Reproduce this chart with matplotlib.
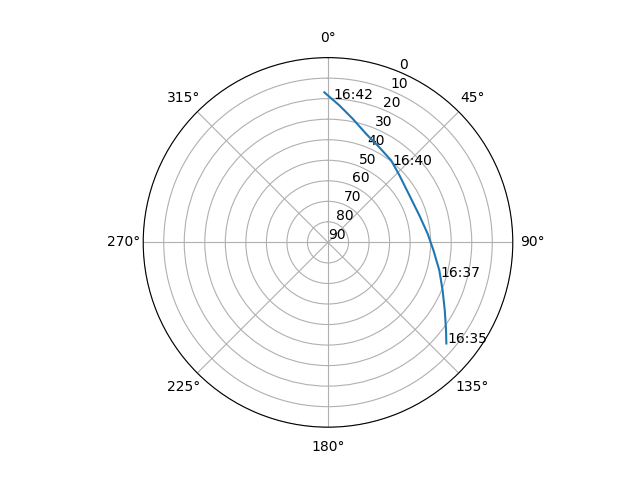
import numpy as np
import matplotlib
matplotlib.use("Agg")
import matplotlib.pyplot as plt

# satellite track: azimuth (deg, clockwise from N) and elevation (deg)
azimuth = [130.5, 126.7, 120.2, 112.7, 104.1, 94.3, 85.0, 73.6, 60.0,
           46.9, 37.6, 27.2, 19.4, 11.3, 4.8, -1.4]
elevation = [14.2, 18.3, 24.2, 29.5, 34.1, 38.5, 41.3, 43.6, 44.2,
             42.3, 39.6, 37.0, 34.0, 28.6, 23.1, 16.9]

# time labels along the track
label_text = ["16:35", "16:37", "16:40", "16:42"]
label_az = [130.1, 107.3, 40.0, 2.0]
label_el = [14.2, 32.7, 41.1, 20.1]

r_ticks = list(range(0, 91, 10))

fig = plt.figure(figsize=(6.4, 4.8), dpi=100)
ax = fig.add_subplot(111, projection="polar")
ax.set_theta_zero_location("N")
ax.set_theta_direction(-1)

ax.plot(np.radians(azimuth), elevation)
for t, a, e in zip(label_text, label_az, label_el):
    ax.text(np.radians(a), e, t)

ax.set_ylim(90, 0)
ax.set_yticks(r_ticks)
ax.set_yticklabels([str(v) for v in r_ticks])

fig.savefig("out.png", dpi=100)
